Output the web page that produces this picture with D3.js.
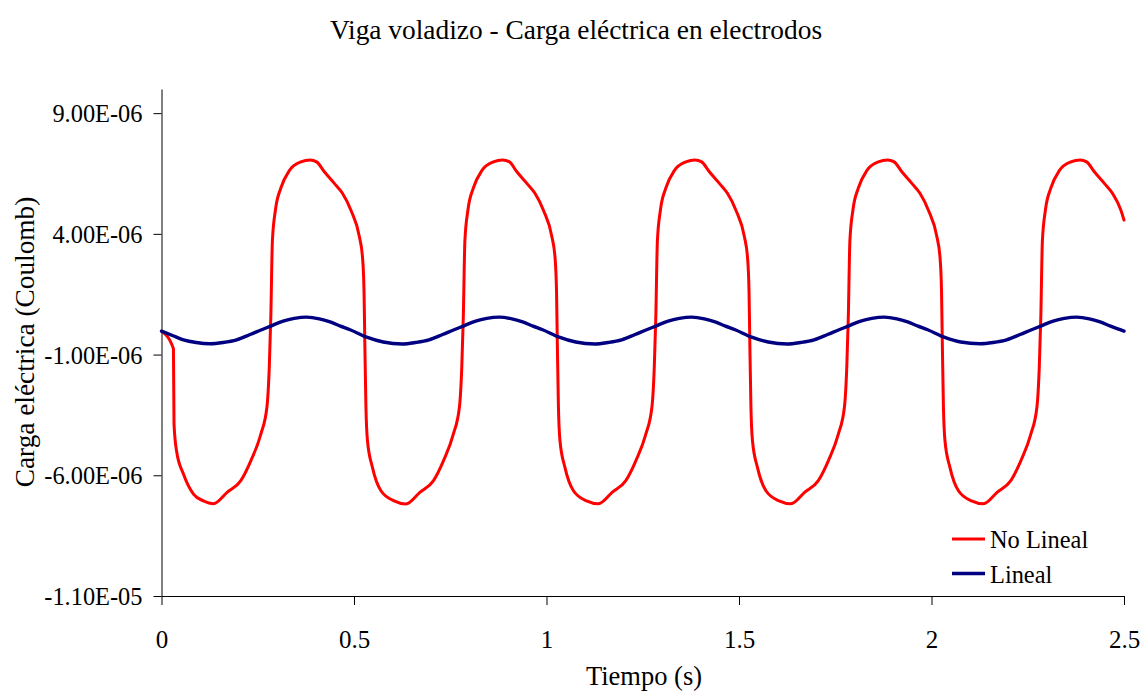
<!DOCTYPE html>
<html>
<head>
<meta charset="utf-8">
<script src="https://cdn.jsdelivr.net/npm/d3@7"></script>
<style>
  html, body { margin: 0; padding: 0; background: #fff; }
  svg text { font-family: "Liberation Serif", "Times New Roman", serif; fill: #000; }
</style>
</head>
<body>
<svg id="chart" width="1142" height="691"></svg>
<script>
// ---------------- DATA (charge values in units of 1e-6 C) ----------------
const chartTitle = "Viga voladizo - Carga eléctrica en electrodos";
const xAxisTitle = "Tiempo (s)";
const yAxisTitle = "Carga eléctrica (Coulomb)";
const seriesNames = ["No Lineal", "Lineal"];

const xTickValues = [0, 0.5, 1, 1.5, 2, 2.5];
const xTickLabels = ["0", "0.5", "1", "1.5", "2", "2.5"];
const yTickValues = [9e-6, 4e-6, -1e-6, -6e-6, -1.1e-5];
const yTickLabels = ["9.00E-06", "4.00E-06", "-1.00E-06", "-6.00E-06", "-1.10E-05"];

const unitScale = 1e-6;

const noLinealTime = [
  0, 0.031, 0.0325, 0.039, 0.057, 0.083, 0.109,
  0.135, 0.171, 0.206, 0.232, 0.258, 0.274, 0.280, 0.284, 0.288, 0.296, 0.310, 0.332, 0.362, 0.386, 0.403, 0.423, 0.449, 0.470, 0.492, 0.514, 0.522, 0.526, 0.528, 0.531, 0.535, 0.548, 0.570, 0.604,
  0.635, 0.671, 0.706, 0.732, 0.758, 0.774, 0.780, 0.784, 0.788, 0.796, 0.810, 0.832, 0.862, 0.886, 0.903, 0.923, 0.949, 0.970, 0.992, 1.014, 1.022, 1.026, 1.028, 1.031, 1.035, 1.048, 1.070, 1.104,
  1.135, 1.171, 1.206, 1.232, 1.258, 1.274, 1.280, 1.284, 1.288, 1.296, 1.310, 1.332, 1.362, 1.386, 1.403, 1.423, 1.449, 1.470, 1.492, 1.514, 1.522, 1.526, 1.528, 1.531, 1.535, 1.548, 1.570, 1.604,
  1.635, 1.671, 1.706, 1.732, 1.758, 1.774, 1.780, 1.784, 1.788, 1.796, 1.810, 1.832, 1.862, 1.886, 1.903, 1.923, 1.949, 1.970, 1.992, 2.014, 2.022, 2.026, 2.028, 2.031, 2.035, 2.048, 2.070, 2.104,
  2.135, 2.171, 2.206, 2.232, 2.258, 2.274, 2.280, 2.284, 2.288, 2.296, 2.310, 2.332, 2.362, 2.386, 2.403, 2.423, 2.449, 2.470, 2.492, 2.500
];
const noLinealCharge = [
  -0.03, -0.76, -3.87, -4.98, -5.95, -6.78, -7.06,
  -7.18, -6.70, -6.22, -5.40, -4.30, -3.15, -1.50, 0.60, 3.70, 5.00, 5.90, 6.62, 6.98, 7.06, 6.98, 6.57, 6.09, 5.68, 4.98, 3.88, 3.05, 1.66, -0.41, -3.18, -4.57, -5.68, -6.64, -7.06,
  -7.19, -6.71, -6.23, -5.41, -4.30, -3.15, -1.50, 0.60, 3.70, 5.00, 5.90, 6.62, 6.98, 7.06, 6.99, 6.57, 6.09, 5.68, 4.98, 3.88, 3.05, 1.66, -0.41, -3.18, -4.57, -5.68, -6.64, -7.06,
  -7.18, -6.70, -6.22, -5.40, -4.30, -3.15, -1.50, 0.60, 3.70, 5.00, 5.90, 6.62, 6.98, 7.06, 6.98, 6.57, 6.09, 5.68, 4.98, 3.88, 3.05, 1.66, -0.41, -3.18, -4.57, -5.68, -6.64, -7.06,
  -7.18, -6.70, -6.22, -5.40, -4.30, -3.15, -1.50, 0.60, 3.70, 5.00, 5.90, 6.62, 6.98, 7.06, 6.98, 6.57, 6.09, 5.68, 4.98, 3.88, 3.05, 1.66, -0.41, -3.18, -4.57, -5.68, -6.64, -7.06,
  -7.18, -6.70, -6.22, -5.40, -4.30, -3.15, -1.50, 0.60, 3.70, 5.00, 5.90, 6.62, 6.98, 7.06, 6.98, 6.57, 6.09, 5.68, 4.98, 4.57
];

const linealTime = [
  0, 0.030, 0.057, 0.090,
  0.126, 0.160, 0.195, 0.230, 0.260, 0.282, 0.316, 0.345, 0.377, 0.410, 0.438, 0.465, 0.490, 0.533, 0.576,
  0.626, 0.660, 0.695, 0.730, 0.760, 0.782, 0.816, 0.845, 0.877, 0.910, 0.938, 0.965, 0.990, 1.033, 1.076,
  1.126, 1.160, 1.195, 1.230, 1.260, 1.282, 1.316, 1.345, 1.377, 1.410, 1.438, 1.465, 1.490, 1.533, 1.576,
  1.626, 1.660, 1.695, 1.730, 1.760, 1.782, 1.816, 1.845, 1.877, 1.910, 1.938, 1.965, 1.990, 2.033, 2.076,
  2.126, 2.160, 2.195, 2.230, 2.260, 2.282, 2.316, 2.345, 2.377, 2.410, 2.438, 2.465, 2.490, 2.500
];
const linealCharge = [
  -0.03, -0.22, -0.39, -0.50,
  -0.55, -0.50, -0.39, -0.17, 0.03, 0.17, 0.39, 0.50, 0.55, 0.48, 0.35, 0.18, 0.03, -0.28, -0.48,
  -0.56, -0.50, -0.39, -0.17, 0.03, 0.17, 0.39, 0.50, 0.55, 0.48, 0.35, 0.18, 0.03, -0.28, -0.48,
  -0.56, -0.50, -0.39, -0.17, 0.03, 0.17, 0.39, 0.50, 0.55, 0.48, 0.35, 0.18, 0.03, -0.28, -0.48,
  -0.56, -0.50, -0.39, -0.17, 0.03, 0.17, 0.39, 0.50, 0.55, 0.48, 0.35, 0.18, 0.03, -0.28, -0.48,
  -0.55, -0.50, -0.39, -0.17, 0.03, 0.17, 0.39, 0.50, 0.55, 0.48, 0.35, 0.18, 0.03, -0.03
];

const seriesColors = ["#FF0000", "#000080"];

// ---------------- LAYOUT ----------------
const svg = d3.select("#chart");
const plot = { left: 161.5, right: 1124, top: 89, bottom: 596 };

const x = d3.scaleLinear().domain([0, 2.5]).range([plot.left, plot.right]);
const y = d3.scaleLinear().domain([-1.1e-5, 1.0e-5]).range([plot.bottom, plot.top]);

const series = [
  { name: seriesNames[0], color: seriesColors[0], width: 3,
    pts: noLinealTime.map((t, i) => [t, noLinealCharge[i] * unitScale]) },
  { name: seriesNames[1], color: seriesColors[1], width: 3.4,
    pts: linealTime.map((t, i) => [t, linealCharge[i] * unitScale]) }
];

// Title
svg.append("text")
  .attr("x", 576).attr("y", 38.5)
  .attr("text-anchor", "middle")
  .style("font-size", "27.4px")
  .text(chartTitle);

// Y axis
const yAxis = d3.axisLeft(y)
  .tickValues(yTickValues)
  .tickFormat((d, i) => yTickLabels[i])
  .tickSize(8).tickSizeOuter(0).tickPadding(11);
const gy = svg.append("g").attr("transform", `translate(${plot.left},0)`).call(yAxis);
gy.select(".domain").attr("stroke", "#000").attr("stroke-width", 1);
gy.selectAll(".tick line").attr("stroke", "#000");
gy.selectAll(".tick text").style("font-size", "24.4px")
  .attr("font-family", null).attr("dy", "0.35em");

// X axis
const xAxis = d3.axisBottom(x)
  .tickValues(xTickValues)
  .tickFormat((d, i) => xTickLabels[i])
  .tickSize(9).tickSizeOuter(0).tickPadding(30);
const gx = svg.append("g").attr("transform", `translate(0,${plot.bottom})`).call(xAxis);
gx.select(".domain").attr("stroke", "#000").attr("stroke-width", 1);
gx.selectAll(".tick line").attr("stroke", "#000");
gx.selectAll(".tick text").style("font-size", "25px")
  .attr("font-family", null).attr("y", 52).attr("dy", null);

// Axis titles
svg.append("text")
  .attr("x", 644).attr("y", 685)
  .attr("text-anchor", "middle")
  .style("font-size", "26.5px")
  .text(xAxisTitle);

svg.append("text")
  .attr("transform", "translate(33.5,342) rotate(-90)")
  .attr("text-anchor", "middle")
  .style("font-size", "27.3px")
  .text(yAxisTitle);

// Lines
const line = d3.line()
  .x(d => x(d[0]))
  .y(d => y(d[1]))
  .curve(d3.curveMonotoneX);

svg.append("g").selectAll("path")
  .data(series)
  .join("path")
  .attr("fill", "none")
  .attr("stroke", d => d.color)
  .attr("stroke-width", d => d.width)
  .attr("stroke-linejoin", "round")
  .attr("stroke-linecap", "round")
  .attr("d", d => line(d.pts));

// Legend
const legend = svg.append("g");
const legendRows = [539, 573.5];
series.forEach((s, i) => {
  legend.append("line")
    .attr("x1", 952).attr("x2", 985)
    .attr("y1", legendRows[i]).attr("y2", legendRows[i])
    .attr("stroke", s.color).attr("stroke-width", s.width);
  legend.append("text")
    .attr("x", 990).attr("y", legendRows[i] + 9)
    .style("font-size", "24.4px")
    .text(s.name);
});
</script>
</body>
</html>
